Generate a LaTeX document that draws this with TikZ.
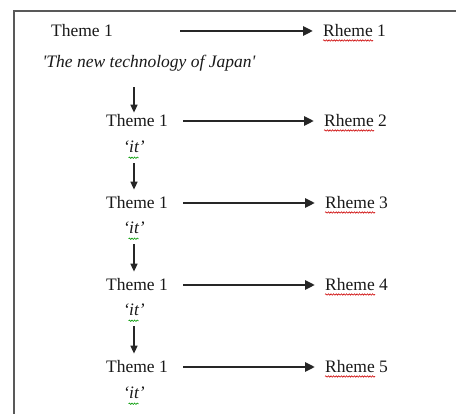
\documentclass[tikz,border=0pt]{standalone}
\usepackage{fontspec}
\setmainfont{Liberation Serif}
\usetikzlibrary{arrows.meta,decorations.pathmorphing}
\begin{document}
\begin{tikzpicture}[x=1pt,y=-1pt,
  txt/.style={inner sep=0pt, font=\fontsize{17.5}{20}\selectfont, text=black!90},
  itx/.style={txt, font=\fontsize{17.5}{20}\selectfont\itshape},
  harrow/.style={line width=2.6pt, draw=black!85, -{Triangle[length=10pt,width=9pt]}},
  varrow/.style={line width=1.5pt, draw=black!85, -{Triangle[length=8pt,width=7pt]}},
  redwave/.style={draw=red!80!black, line width=0.6pt, decorate, decoration={snake,amplitude=0.7pt,segment length=2.6pt}},
  greenwave/.style={draw=green!60!black, line width=0.6pt, decorate, decoration={snake,amplitude=0.7pt,segment length=2.6pt}},
  frameline/.style={line width=2.8pt, draw=black!65}]
\useasboundingbox (0,0) rectangle (456,414);
\draw[frameline] (14,416) -- (14,11) -- (458,11);
% row 1
\node[txt] (t1) at (82,31) {Theme 1};
\node[txt, anchor=west] (r1) at (323,31) {Rheme 1};
\node[itx] (tj) at (149,63) {\textquotesingle The new technology of Japan\textquotesingle};
% rows 2-5
\node[txt] (t2) at (137,121) {Theme 1};
\node[txt, anchor=west] (r2) at (324,121) {Rheme 2};
\node[itx] (i2) at (134,147) {‘it’};
\node[txt] (t3) at (137,203) {Theme 1};
\node[txt, anchor=west] (r3) at (325,203) {Rheme 3};
\node[itx] (i3) at (134,228) {‘it’};
\node[txt] (t4) at (137,285) {Theme 1};
\node[txt, anchor=west] (r4) at (325,285) {Rheme 4};
\node[itx] (i4) at (134,310) {‘it’};
\node[txt] (t5) at (137,367) {Theme 1};
\node[txt, anchor=west] (r5) at (325,367) {Rheme 5};
\node[itx] (i5) at (134,393) {‘it’};
% horizontal arrows
\draw[harrow, shorten >=10pt] ([xshift=67pt]t1.east) -- (r1.west);
\foreach \n in {2,3,4,5}{
  \draw[harrow, shorten >=10pt] ([xshift=15pt]t\n.east) -- (r\n.west);
}
% vertical arrows
\draw[varrow, shorten <=16pt, shorten >=2pt] (tj.south -| i2.center) -- (i2.center |- t2.north);
\draw[varrow, shorten <=10pt, shorten >=7pt] (i2.south) -- (i2.south |- t3.north);
\draw[varrow, shorten <=10pt, shorten >=7pt] (i3.south) -- (i3.south |- t4.north);
\draw[varrow, shorten <=10pt, shorten >=7pt] (i4.south) -- (i4.south |- t5.north);
% spell-check underlines
\foreach \n in {1,2,3,4,5}{
  \draw[redwave] ([yshift=-3.5pt]r\n.base west) -- ++(50,0);
}
\foreach \n in {2,3,4,5}{
  \draw[greenwave] ([xshift=5.5pt,yshift=-5pt]i\n.base west) -- ++(10,0);
}
\end{tikzpicture}
\end{document}
